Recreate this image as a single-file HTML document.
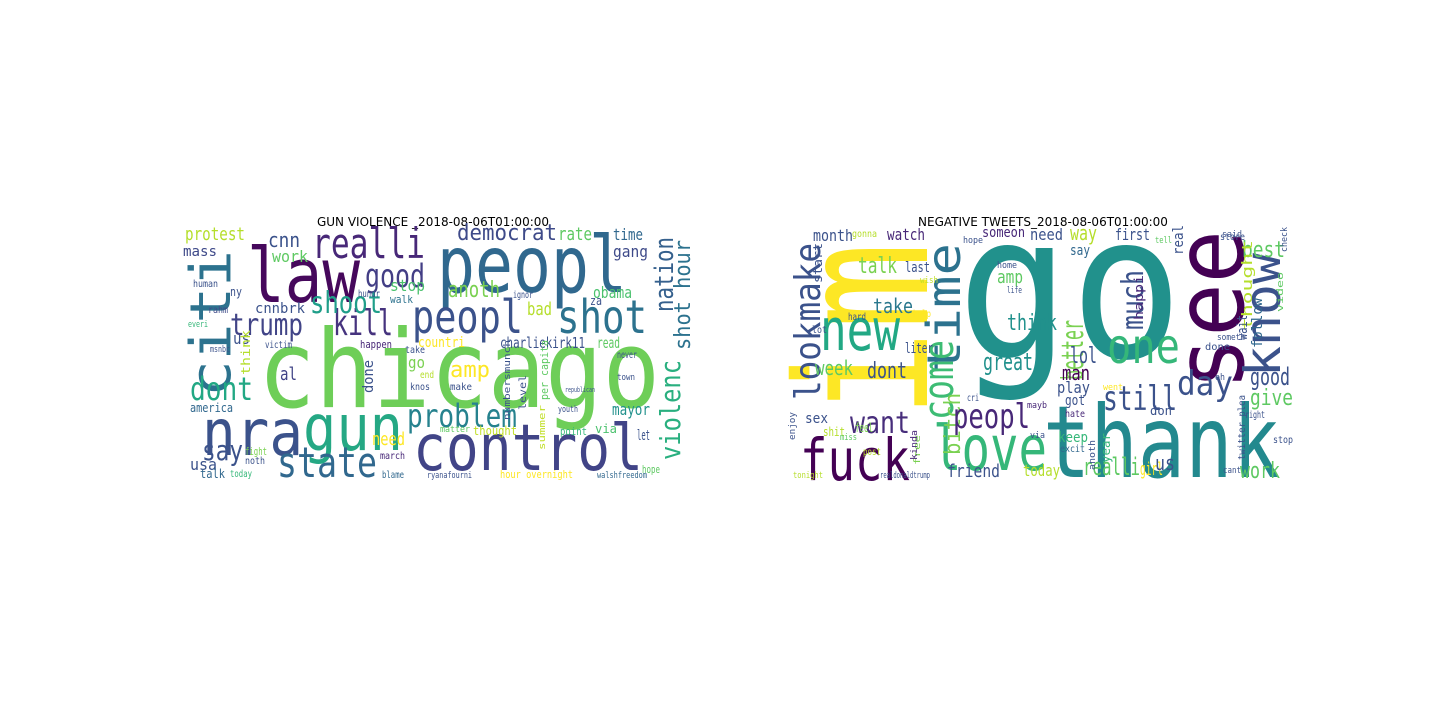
<!DOCTYPE html>
<html><head><meta charset="utf-8">
<style>
html,body{margin:0;padding:0;background:#fff;width:1440px;height:720px;overflow:hidden;}
svg{position:absolute;left:0;top:0;}
text{font-family:"DejaVu Sans Mono","Liberation Mono",monospace;}
text.title{font-family:"DejaVu Sans","Liberation Sans",sans-serif;}
</style></head>
<body>
<svg id="chart" width="1440" height="720">
  <text class="title" x="433" y="226" font-size="12" text-anchor="middle" fill="#000">GUN VIOLENCE _2018-08-06T01:00:00</text>
  <text class="title" x="1043" y="226" font-size="12" text-anchor="middle" fill="#000">NEGATIVE TWEETS_2018-08-06T01:00:00</text>
  <g id="left"></g>
  <g id="right"></g>
</svg>
<script>
// [word, x, baselineY, length, fontSize, color, rotated]
const leftWords = [
["chicago",258,407,402,108,"#6ece58",0],
["law",247,302,113,76,"#46085c",0],
["peopl",437,292,190,78,"#30688e",0],
["nra",202,455,101,64,"#3b528b",0],
["gun",303,450,100,64,"#25a884",0],
["control",413,470,230,64,"#414487",0],
["citi",230,397,147,56,"#2c728e",1],
["realli",312,258,113,42,"#482878",0],
["state",277,477,100,42,"#31688e",0],
["peopl",412,333,111,46,"#3b528b",0],
["shot",557,333,90,46,"#2c728e",0],
["good",365,287,60,32,"#433e85",0],
["democrat",457,240,100,22,"#3e4a89",0],
["trump",230,335,73,30,"#414487",0],
["kill",333,335,60,36,"#46337e",0],
["shoot",310,313,72,30,"#1f9e89",0],
["dont",190,400,63,32,"#22a884",0],
["problem",407,427,110,32,"#26828e",0],
["say",202,460,41,28,"#3b528b",0],
["nation",673,312,75,26,"#35608d",1],
["violenc",680,460,100,28,"#29af7f",1],
["shot hour",690,350,110,22,"#2c728e",1],
["anoth",448,297,52,22,"#7ad151",0],
["amp",450,377,40,22,"#fde725",0],
["charliekirk11",500,348,85,15,"#3b528b",0],
["read",597,348,23,15,"#5ec962",0],
["countri",418,347,47,14,"#fde725",0],
["cnnbrk",255,313,50,14,"#3b528b",0],
["cnn",268,247,32,20,"#3b528b",0],
["protest",185,240,60,18,"#b5de2b",0],
["mass",183,256,34,14,"#3e4989",0],
["work",272,262,36,16,"#5ec962",0],
["stop",390,291,35,16,"#4ac16d",0],
["rate",558,240,34,18,"#5ec962",0],
["time",613,240,30,16,"#31688e",0],
["gang",613,257,35,16,"#3e4a89",0],
["obama",593,298,39,16,"#4ac16d",0],
["mayor",612,415,38,16,"#21918c",0],
["let",637,440,13,14,"#3b528b",0],
["usa",190,470,27,16,"#3b528b",0],
["talk",200,478,25,12,"#31688e",0],
["america",190,412,43,12,"#31688e",0],
["need",372,445,33,18,"#fde725",0],
["go",408,368,17,16,"#7ad151",0],
["done",373,393,33,14,"#3b528b",1],
["al",280,380,17,18,"#414487",0],
["us",233,344,17,16,"#3b528b",0],
["bad",527,315,25,18,"#b5de2b",0],
["thought",473,435,44,12,"#c0df25",0],
["hour overnight",500,478,73,11,"#fde725",0],
["ryanafourni",427,478,45,9,"#3b528b",0],
["walshfreedom",597,478,50,9,"#31688e",0],
["via",595,433,22,12,"#4ac16d",0],
["point",560,435,27,11,"#35b779",0],
["hope",642,473,18,11,"#5ec962",0],
["fight",245,455,22,11,"#7ad151",0],
["noth",245,464,20,10,"#3b528b",0],
["today",230,477,22,10,"#35b779",0],
["march",380,459,25,10,"#482878",0],
["blame",382,478,22,10,"#31688e",0],
["happen",360,348,32,11,"#482878",0],
["victim",265,348,27,10,"#3b528b",0],
["think",250,375,45,12,"#b5de2b",1],
["walk",390,303,23,11,"#2c728e",0],
["hundr",358,297,22,10,"#3b528b",0],
["ny",230,296,12,12,"#3b528b",0],
["human",193,287,25,10,"#3b528b",0],
["rahm",208,313,20,10,"#3e4a89",0],
["everi",188,327,20,9,"#35b779",0],
["msnbc",210,352,20,9,"#3b528b",0],
["ignor",513,298,20,10,"#3b528b",0],
["za",590,305,12,12,"#3b528b",0],
["take",405,353,20,10,"#3b528b",0],
["knos",410,390,20,10,"#3b528b",0],
["make",450,390,22,10,"#3b528b",0],
["end",420,378,14,10,"#b5de2b",0],
["per capita",548,400,60,11,"#5ec962",1],
["level",526,410,35,10,"#3b528b",1],
["numbersmunch",510,420,80,9,"#3b528b",1],
["never",617,358,20,10,"#3b528b",0],
["town",617,380,18,9,"#3b528b",0],
["youth",558,412,20,9,"#3b528b",0],
["republican",565,392,30,7,"#3b528b",0],
["summer",545,450,45,9,"#c0df25",1],
["matter",440,432,30,9,"#5ec962",0]
];
const rightWords = [
["go",957,357,226,200,"#21918c",0],
["im",927,418,176,182,"#fde725",1],
["thank",1043,477,237,100,"#23898e",0],
["see",1243,390,160,96,"#440154",1],
["know",1280,377,124,50,"#3b528b",1],
["love",933,470,114,62,"#35b779",0],
["fuck",800,480,110,58,"#440154",0],
["new",820,350,80,58,"#22a884",0],
["time",960,373,130,46,"#2c728e",1],
["come",953,420,80,42,"#3dbc74",1],
["bitch",960,455,62,22,"#7ad151",1],
["one",1107,363,73,48,"#35b779",0],
["still",1103,410,74,34,"#3b528b",0],
["day",1177,395,56,34,"#3b528b",0],
["much",1143,330,60,30,"#3b528b",1],
["better",1083,380,60,30,"#7ad151",1],
["peopl",953,428,77,34,"#482878",0],
["want",850,433,60,30,"#472d7b",0],
["lookmake",820,400,157,36,"#3b528b",1],
["talk",858,273,39,22,"#7ad151",0],
["take",873,313,40,20,"#2a788e",0],
["dont",867,378,40,22,"#3b528b",0],
["week",815,375,38,20,"#5ec962",0],
["great",983,370,50,24,"#21918c",0],
["think",1007,330,50,22,"#21918c",0],
["amp",997,283,26,18,"#5ec962",0],
["lol",1070,363,27,22,"#3b528b",0],
["man",1062,380,28,20,"#440154",0],
["play",1057,393,33,16,"#3b528b",0],
["good",1250,385,40,24,"#3b528b",0],
["give",1250,405,43,22,"#5ec962",0],
["best",1242,257,43,22,"#5ec962",0],
["work",1240,478,40,22,"#5ec962",0],
["realli",1083,475,57,24,"#5ec962",0],
["girl",1140,475,23,18,"#fde725",0],
["us",1155,470,20,20,"#3b528b",0],
["friend",947,477,53,18,"#3b528b",0],
["today",1023,476,37,16,"#b5de2b",0],
["way",1070,240,27,20,"#b5de2b",0],
["first",1115,240,35,16,"#3b528b",0],
["need",1030,240,33,16,"#3b528b",0],
["someon",982,237,43,14,"#482878",0],
["watch",887,240,38,16,"#482878",0],
["month",813,241,40,16,"#3b528b",0],
["gonna",852,237,25,10,"#b5de2b",0],
["last",905,272,25,14,"#3b528b",0],
["say",1070,255,20,14,"#31688e",0],
["keep",1058,442,30,14,"#35b779",0],
["excit",1060,452,25,10,"#31688e",0],
["sex",805,423,23,14,"#3b528b",0],
["shit",823,436,22,12,"#b5de2b",0],
["feel",855,432,18,12,"#7ad151",0],
["miss",840,440,17,9,"#5ec962",0],
["liter",905,353,28,14,"#3b528b",0],
["got",1065,405,20,14,"#3b528b",0],
["hate",1065,417,20,10,"#482878",0],
["don",1150,415,22,12,"#3b528b",0],
["right",1245,418,20,10,"#3b528b",0],
["stop",1273,443,20,10,"#3b528b",0],
["real",1183,255,30,14,"#3b528b",1],
["thought",1252,330,90,14,"#b5de2b",1],
["wait",1247,340,25,14,"#3b528b",1],
["follow",1262,348,50,14,"#31688e",1],
["happi",1143,320,45,12,"#482878",1],
["twitter plea",1245,460,65,10,"#3b528b",1],
["start",822,283,40,12,"#3b528b",1],
["year",1110,463,30,12,"#35b779",1],
["anoth",1095,470,30,9,"#3b528b",1],
["enjoy",795,440,28,9,"#3b528b",1],
["realdonaldtrump",880,478,50,9,"#3b528b",0],
["tonight",793,478,30,9,"#b5de2b",0],
["post",863,455,18,10,"#b5de2b",0],
["cri",967,401,12,10,"#3b528b",0],
["wish",920,283,18,9,"#c0df25",0],
["hope",963,243,20,9,"#3b528b",0],
["home",997,268,20,9,"#3b528b",0],
["life",1007,293,15,9,"#3b528b",0],
["hard",848,320,18,10,"#3b528b",0],
["help",913,317,18,10,"#fde725",0],
["lot",812,333,15,10,"#3b528b",0],
["someth",1217,340,28,9,"#3b528b",0],
["done",1205,350,25,10,"#3b528b",0],
["oh",1215,380,10,9,"#3b528b",0],
["store",1220,240,25,10,"#3b528b",0],
["said",1222,237,20,9,"#3b528b",0],
["tell",1155,243,17,9,"#5ec962",0],
["mayb",1027,408,20,9,"#482878",0],
["via",1030,438,15,9,"#3b528b",0],
["free",920,465,30,9,"#7ad151",1],
["kinda",917,460,30,9,"#482878",1],
["went",1103,390,20,9,"#fde725",0],
["cant",1223,473,18,9,"#3b528b",0],
["video",1283,312,40,9,"#5ec962",1],
["check",1287,252,25,9,"#3b528b",1]
];
function draw(words, gid){
  const g = document.getElementById(gid);
  words.forEach(w => {
    const t = document.createElementNS("http://www.w3.org/2000/svg","text");
    
    
    t.setAttribute("x", w[1]);
    t.setAttribute("y", w[2]);
    t.setAttribute("font-size", w[4]);
    t.setAttribute("fill", w[5]);
    t.setAttribute("textLength", w[3]);
    t.setAttribute("lengthAdjust", "spacingAndGlyphs");
    if (w[6]) t.setAttribute("transform", "rotate(-90 " + w[1] + " " + w[2] + ")");
    t.textContent = w[0];
    g.appendChild(t);
  });
}
draw(leftWords, "left");
draw(rightWords, "right");
</script>
</body></html>
